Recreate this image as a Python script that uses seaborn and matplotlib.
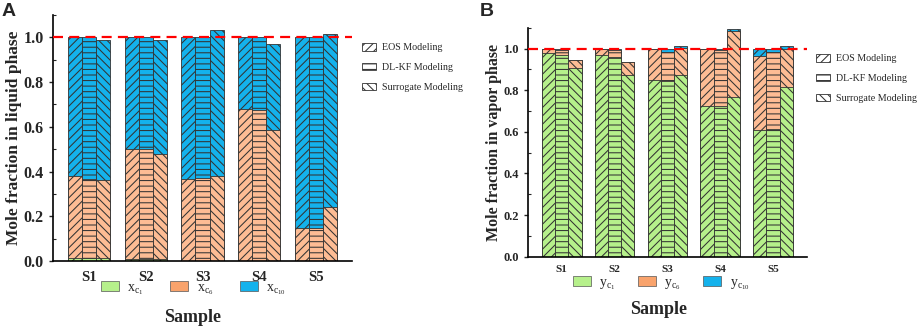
import pandas as pd
import matplotlib
matplotlib.use("Agg")
import matplotlib.pyplot as plt
import seaborn as sns
from matplotlib.patches import Patch
from matplotlib.ticker import MultipleLocator

# -----------------------------------------------
# Datos (una fila por modelo: EOS, DL-KF, Surrogate)
samples = ["S1", "S2", "S3", "S4", "S5"]
models = ["EOS Modeling", "DL-KF Modeling", "Surrogate Modeling"]

# Fase líquida
liq_c1 = [[0.012, 0.010, 0.002, 0.002, 0.002],
          [0.012, 0.010, 0.002, 0.002, 0.002],
          [0.012, 0.008, 0.002, 0.002, 0.002]]
liq_c6 = [[0.369, 0.493, 0.364, 0.678, 0.144],
          [0.354, 0.489, 0.367, 0.674, 0.147],
          [0.348, 0.470, 0.379, 0.583, 0.241]]
liq_c10 = [[0.619, 0.497, 0.634, 0.320, 0.854],
           [0.634, 0.501, 0.631, 0.324, 0.851],
           [0.630, 0.509, 0.653, 0.387, 0.770]]

# Fase vapor
vap_c1 = [[0.978, 0.968, 0.849, 0.726, 0.609],
          [0.968, 0.958, 0.843, 0.726, 0.612],
          [0.907, 0.872, 0.872, 0.765, 0.813]]
vap_c6 = [[0.021, 0.031, 0.148, 0.271, 0.354],
          [0.027, 0.037, 0.138, 0.265, 0.371],
          [0.037, 0.064, 0.130, 0.320, 0.187]]
vap_c10 = [[0.001, 0.001, 0.003, 0.003, 0.037],
           [0.005, 0.005, 0.019, 0.009, 0.017],
           [0.001, 0.001, 0.011, 0.010, 0.012]]

C1 = "#b6f08b"
C6 = "#fdbc94"
C10 = "#14b2ec"
LEG_C6 = "#f9a36c"
EDGE = "#333333"
HATCHES = ["////", "---", "\\\\\\\\"]

sns.set_style("ticks")
plt.rcParams["font.family"] = ["Liberation Serif", "DejaVu Serif"]
plt.rcParams["mathtext.fontset"] = "stix"
plt.rcParams["hatch.linewidth"] = 0.75


# -----------------------------------------------
# Arma el DataFrame largo con los acumulados para apilar
def armar_df(c1, c6, c10):
    filas = []
    for m, modelo in enumerate(models):
        for s, muestra in enumerate(samples):
            filas.append({"Sample": muestra, "Model": modelo,
                          "c1": c1[m][s], "c6": c6[m][s], "c10": c10[m][s]})
    df = pd.DataFrame(filas)
    df["top_c6"] = df["c1"] + df["c6"]
    df["total"] = df["top_c6"] + df["c10"]
    return df


# -----------------------------------------------
# Dibuja un panel de barras apiladas con tramas por modelo
def dibujar_panel(ax, df, ylabel, tick_fs, label_fs, label_x, xpad):
    for col, color in [("total", C10), ("top_c6", C6), ("c1", C1)]:
        n0 = len(ax.patches)
        sns.barplot(data=df, x="Sample", y=col, hue="Model", order=samples,
                    hue_order=models, palette=[color] * 3, width=0.75,
                    saturation=1, errorbar=None, edgecolor=EDGE, linewidth=0.6,
                    legend=False, ax=ax)
        for p in ax.patches[n0:]:
            cx = p.get_x() + p.get_width() / 2
            k = int(round((cx - round(cx)) / 0.25)) + 1
            p.set_hatch(HATCHES[k])

    ax.axhline(1.0, color="#ff0000", lw=1.6, ls=(0, (4.5, 2.8)), zorder=6)

    ax.set_xlim(-0.64, 4.64)
    ax.set_ylim(0, 1.1)
    ax.yaxis.set_major_locator(MultipleLocator(0.2))
    ax.yaxis.set_minor_locator(MultipleLocator(0.1))
    ax.tick_params(axis="y", which="major", direction="out", length=3,
                   width=1, labelsize=tick_fs)
    ax.tick_params(axis="y", which="minor", direction="in", length=2, width=0.8)
    ax.tick_params(axis="x", length=0, pad=xpad, labelsize=tick_fs - 1)
    for lab in ax.get_xticklabels() + ax.get_yticklabels():
        lab.set_fontweight("bold")

    ax.spines["top"].set_visible(False)
    ax.spines["right"].set_visible(False)
    for s in ["left", "bottom"]:
        ax.spines[s].set_color("black")
        ax.spines[s].set_linewidth(1.2)

    ax.set_xlabel("")
    ax.set_ylabel(ylabel, fontsize=label_fs, fontweight="bold")
    ax.yaxis.set_label_coords(label_x, 0.5)


fig = plt.figure(figsize=(9.2, 3.3), dpi=100)

ax_a = fig.add_axes([53 / 920, 1 - 261 / 330, 299 / 920, 246 / 330])
ax_b = fig.add_axes([528 / 920, 1 - 256.7 / 330, 278.7 / 920, 229 / 330])

dibujar_panel(ax_a, armar_df(liq_c1, liq_c6, liq_c10),
              "Mole fraction in liquid phase", 11.5, 12.5, -0.104, 7)
dibujar_panel(ax_b, armar_df(vap_c1, vap_c6, vap_c10),
              "Mole fraction in vapor phase", 9, 11.5, -0.093, 6)

# Leyendas de tramas (modelos)
handles_modelo = [Patch(facecolor="white", edgecolor=EDGE, hatch=h, lw=0.6)
                  for h in HATCHES]
for x0, y0 in [(357 / 920, 1 - 38 / 330), (811 / 920, 1 - 49 / 330)]:
    fig.legend(handles_modelo, models, loc="upper left", bbox_to_anchor=(x0, y0),
               frameon=False, fontsize=7.2, borderpad=0, handlelength=1.4,
               handleheight=0.8, handletextpad=0.6, labelspacing=1.05)

# Leyendas de colores (componentes)
colores_leg = [C1, LEG_C6, C10]
for pref, x0, yc, sep in [("x", 94 / 920, 289, 1.9), ("y", 566 / 920, 284, 1.6)]:
    handles = [Patch(facecolor=c, edgecolor="#555555", lw=0.5) for c in colores_leg]
    labels = [rf"$\mathregular{{{pref}_{{c_{{{n}}}}}}}$" for n in (1, 6, 10)]
    fig.legend(handles, labels, loc="center left", bbox_to_anchor=(x0, 1 - yc / 330),
               ncol=3, frameon=False, fontsize=10, borderpad=0, handlelength=1.3,
               handleheight=0.75, handletextpad=0.6, columnspacing=sep)

fig.text(193 / 920, 1 - 318 / 330, "Sample", ha="center", va="center",
         fontsize=13, fontweight="bold")
fig.text(659 / 920, 1 - 310 / 330, "Sample", ha="center", va="center",
         fontsize=13, fontweight="bold")

fig.text(2 / 920, 1 - 11 / 330, "A", ha="left", va="center", fontsize=14,
         fontweight="bold", family=["Liberation Sans", "DejaVu Sans"])
fig.text(480 / 920, 1 - 11 / 330, "B", ha="left", va="center", fontsize=14,
         fontweight="bold", family=["Liberation Sans", "DejaVu Sans"])

fig.savefig("out.png", dpi=100)
plt.close()
